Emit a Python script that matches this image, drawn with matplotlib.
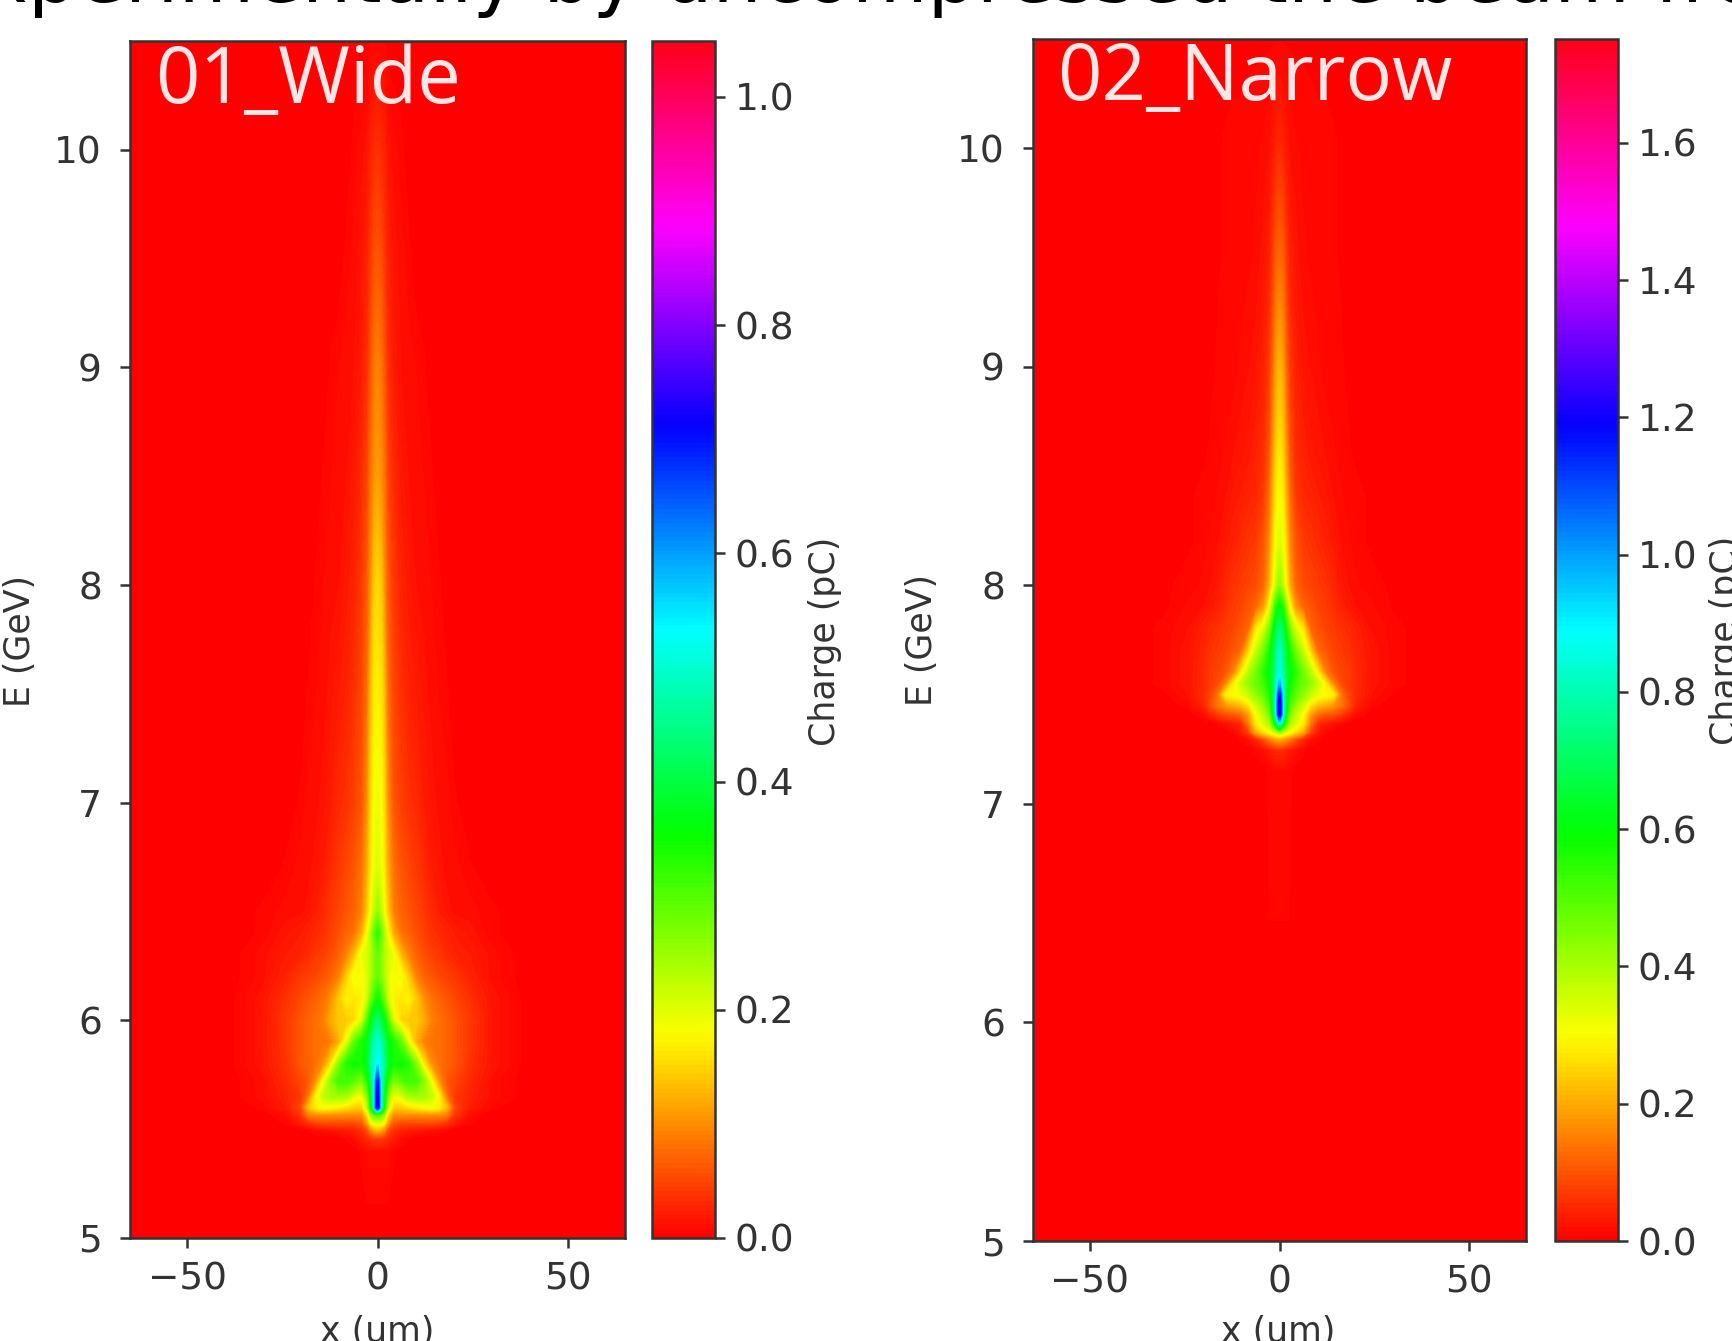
import numpy as np
import matplotlib
matplotlib.use("Agg")
import matplotlib.pyplot as plt
from matplotlib.cm import ScalarMappable
from matplotlib.colors import Normalize

# figure size in pixels, everything below is placed in pixels
W = 1733
H = 1341

caption = "xperimentally by uncompressed the beam fro"

# distance from the axis (um), the maps are mirrored around x=0
x_nodes = [0, 0.8, 1.6, 2.5, 4, 6, 8, 10, 12, 14, 16, 18, 20, 24, 30, 40, 65]

# 01_Wide, charge in pC
wide_E = [5.0, 5.40, 5.46, 5.50, 5.53, 5.57, 5.60, 5.65, 5.72, 5.80, 5.90, 6.00, 6.10,
          6.20, 6.30, 6.40, 6.50, 6.70, 7.00, 7.50, 8.00, 8.50, 9.00, 9.50, 10.00, 10.50]
wide_Q = [
    [0, 0, 0, 0, 0, 0, 0, 0, 0, 0, 0, 0, 0, 0, 0, 0, 0],
    [.01, .01, .01, .01, .005, 0, 0, 0, 0, 0, 0, 0, 0, 0, 0, 0, 0],
    [.04, .04, .035, .03, .02, .01, .005, 0, 0, 0, 0, 0, 0, 0, 0, 0, 0],
    [.13, .12, .10, .06, .035, .025, .02, .018, .015, .012, .01, .005, 0, 0, 0, 0, 0],
    [.19, .19, .17, .11, .06, .05, .05, .05, .05, .05, .045, .035, .02, .005, 0, 0, 0],
    [.30, .29, .25, .16, .10, .10, .10, .10, .10, .10, .10, .09, .04, .01, 0, 0, 0],
    [.72, .50, .34, .22, .14, .14, .15, .16, .17, .18, .17, .13, .05, .02, .005, 0, 0],
    [.72, .50, .36, .26, .18, .19, .23, .24, .24, .22, .17, .08, .04, .025, .01, 0, 0],
    [.68, .50, .40, .33, .26, .28, .31, .31, .26, .18, .10, .06, .05, .03, .01, 0, 0],
    [.53, .50, .45, .38, .34, .35, .33, .26, .16, .10, .08, .07, .06, .035, .015, 0, 0],
    [.50, .47, .42, .37, .34, .29, .19, .12, .09, .08, .08, .07, .06, .04, .015, 0, 0],
    [.43, .40, .36, .30, .20, .15, .14, .14, .12, .09, .08, .07, .06, .04, .015, 0, 0],
    [.34, .31, .27, .21, .17, .16, .17, .14, .10, .08, .07, .06, .05, .035, .015, 0, 0],
    [.28, .26, .23, .20, .18, .19, .14, .09, .07, .06, .05, .045, .04, .025, .01, 0, 0],
    [.28, .26, .23, .21, .19, .13, .09, .07, .055, .045, .04, .03, .025, .02, .01, 0, 0],
    [.32, .28, .23, .18, .12, .08, .07, .055, .045, .035, .03, .025, .02, .015, .005, 0, 0],
    [.25, .22, .18, .14, .09, .07, .06, .05, .04, .03, .02, .015, .01, .01, .005, 0, 0],
    [.20, .19, .16, .12, .08, .06, .05, .04, .03, .02, .015, .01, .01, .005, 0, 0, 0],
    [.19, .18, .15, .10, .06, .045, .035, .03, .02, .015, .01, .01, .005, 0, 0, 0, 0],
    [.17, .16, .13, .08, .05, .035, .025, .02, .015, .01, .008, .005, 0, 0, 0, 0, 0],
    [.15, .14, .10, .065, .04, .025, .018, .012, .01, .008, .005, 0, 0, 0, 0, 0, 0],
    [.11, .10, .08, .05, .03, .018, .012, .01, .008, .005, 0, 0, 0, 0, 0, 0, 0],
    [.09, .08, .06, .035, .02, .012, .01, .008, .005, 0, 0, 0, 0, 0, 0, 0, 0],
    [.06, .055, .04, .025, .015, .01, .006, 0, 0, 0, 0, 0, 0, 0, 0, 0, 0],
    [.035, .03, .025, .015, .01, .006, 0, 0, 0, 0, 0, 0, 0, 0, 0, 0, 0],
    [.005, .005, .005, 0, 0, 0, 0, 0, 0, 0, 0, 0, 0, 0, 0, 0, 0],
]

# 02_Narrow
narrow_E = [5.0, 7.15, 7.25, 7.30, 7.33, 7.37, 7.41, 7.45, 7.50, 7.55, 7.60, 7.70, 7.80,
            7.90, 8.00, 8.20, 8.40, 8.60, 9.00, 9.50, 10.00, 10.50]
narrow_Q = [
    [0, 0, 0, 0, 0, 0, 0, 0, 0, 0, 0, 0, 0, 0, 0, 0, 0],
    [.01, .01, .01, .01, 0, 0, 0, 0, 0, 0, 0, 0, 0, 0, 0, 0, 0],
    [.05, .05, .04, .03, .02, .01, 0, 0, 0, 0, 0, 0, 0, 0, 0, 0, 0],
    [.20, .19, .17, .15, .10, .05, .02, .01, 0, 0, 0, 0, 0, 0, 0, 0, 0],
    [.40, .36, .33, .30, .26, .20, .08, .03, .01, 0, 0, 0, 0, 0, 0, 0, 0],
    [.85, .65, .50, .40, .34, .28, .14, .05, .03, .02, .01, 0, 0, 0, 0, 0, 0],
    [1.20, .85, .58, .45, .37, .30, .18, .12, .10, .09, .07, .04, .015, 0, 0, 0, 0],
    [1.22, .86, .62, .50, .42, .35, .26, .21, .19, .17, .14, .09, .04, .01, 0, 0, 0],
    [1.15, .82, .65, .55, .48, .42, .36, .32, .30, .28, .14, .08, .05, .02, .005, 0, 0],
    [.95, .80, .66, .58, .52, .47, .42, .36, .27, .15, .09, .07, .05, .025, .01, 0, 0],
    [.85, .76, .66, .60, .55, .46, .38, .27, .15, .10, .08, .07, .05, .025, .01, 0, 0],
    [.82, .72, .64, .56, .46, .36, .24, .12, .10, .08, .07, .06, .045, .025, .01, 0, 0],
    [.72, .66, .56, .45, .34, .27, .12, .10, .08, .07, .06, .05, .04, .02, .01, 0, 0],
    [.60, .54, .42, .30, .18, .12, .10, .08, .07, .055, .04, .03, .02, .015, .005, 0, 0],
    [.42, .36, .28, .20, .12, .09, .08, .07, .06, .045, .03, .02, .015, .01, .005, 0, 0],
    [.33, .30, .24, .16, .10, .07, .06, .05, .04, .03, .02, .015, .01, .005, .005, 0, 0],
    [.30, .27, .20, .13, .07, .05, .045, .035, .03, .02, .015, .01, .01, .005, 0, 0, 0],
    [.27, .24, .17, .10, .055, .04, .03, .025, .02, .015, .01, .008, .005, 0, 0, 0, 0],
    [.21, .18, .12, .07, .04, .025, .02, .015, .01, .01, .008, .005, .005, 0, 0, 0, 0],
    [.12, .11, .07, .04, .025, .015, .012, .01, .01, .008, .006, .005, .005, .005, 0, 0, 0],
    [.05, .04, .03, .02, .015, .012, .01, .01, .01, .008, .006, .005, .005, .005, .003, 0, 0],
    [.005, .005, .005, .005, .005, .005, .005, .003, .003, .003, .003, 0, 0, 0, 0, 0, 0],
]

wide_ticks = [0.0, 0.2, 0.4, 0.6, 0.8, 1.0]
narrow_ticks = [0.0, 0.2, 0.4, 0.6, 0.8, 1.0, 1.2, 1.4, 1.6]
x_ticks = [-50, 0, 50]
E_ticks = [5, 6, 7, 8, 9, 10]

TICK_FONT = 27
LABEL_FONT = 25
DARK = "#333333"


def px_axes(fig, left, top, right, bottom):
    # axes from pixel edges, y counted from the top of the picture
    return fig.add_axes([left/W, 1-bottom/H, (right-left)/W, (bottom-top)/H])


def style_axes(ax):
    ax.tick_params(labelsize=TICK_FONT, length=7.2, width=1.8, color=DARK, labelcolor=DARK)
    for side in ax.spines.values():
        side.set_linewidth(1.8)
        side.set_color(DARK)


def draw_panel(fig, box, cbar_box, E, Q, vmax, ticks, name, name_px, label_px):
    # box and cbar_box are (left, top, right, bottom) in pixels
    ax = px_axes(fig, *box)
    x = np.array(x_nodes)
    Q = np.array(Q)
    x_full = np.concatenate([-x[:0:-1], x])
    Q_full = np.hstack([Q[:, :0:-1], Q])
    levels = np.linspace(0, vmax, 257)
    filled = ax.contourf(x_full, E, Q_full, levels=levels, cmap="hsv", vmin=0, vmax=vmax)
    filled.set_edgecolor("face")
    ax.set_xlim(-65, 65)
    ax.set_ylim(5, 10.5)
    ax.set_xticks(x_ticks)
    ax.set_yticks(E_ticks)
    style_axes(ax)
    ax.tick_params(axis="x", pad=10)
    ax.tick_params(axis="y", pad=13)

    cax = px_axes(fig, *cbar_box)
    sm = ScalarMappable(norm=Normalize(0, vmax), cmap="hsv")
    cbar = fig.colorbar(sm, cax=cax, ticks=ticks)
    cbar.ax.set_yticklabels(["%.1f" % t for t in ticks])
    style_axes(cbar.ax)
    cbar.ax.tick_params(pad=7)
    cbar.outline.set_linewidth(1.8)
    cbar.outline.set_edgecolor(DARK)

    # panel name inside the map
    fig.text(name_px[0]/W, 1-name_px[1]/H, name, family="Open Sans", fontsize=56,
             color="#ffe6e6", ha="left", va="baseline")
    # labels sit at fixed pixels, two of them run off the picture
    fig.text(label_px[0]/W, 1-label_px[3]/H, "E (GeV)", rotation=90, fontsize=LABEL_FONT,
             color=DARK, ha="center", va="center")
    fig.text(label_px[1]/W, 1-label_px[3]/H, "Charge (pC)", rotation=90, fontsize=LABEL_FONT,
             color=DARK, ha="center", va="center")
    fig.text(label_px[2]/W, 1-1332/H, "x (um)", fontsize=LABEL_FONT, color=DARK,
             ha="center", va="center")


fig = plt.figure(figsize=(W/100, H/100), dpi=100)

draw_panel(fig, (130, 41, 625, 1238), (652, 41, 715, 1238), wide_E, wide_Q, 1.049, wide_ticks,
           "01_Wide", (155, 103), (20, 825, 377, 641))
draw_panel(fig, (1033, 39, 1526, 1241), (1555, 39, 1618, 1241), narrow_E, narrow_Q, 1.751, narrow_ticks,
           "02_Narrow", (1057, 100), (922, 1726, 1278, 640))

# slide caption cut off by the top edge
fig.text(-18/W, 1-2/H, caption, fontsize=56, color="black", ha="left", va="baseline")

fig.savefig("out.png", dpi=100)
